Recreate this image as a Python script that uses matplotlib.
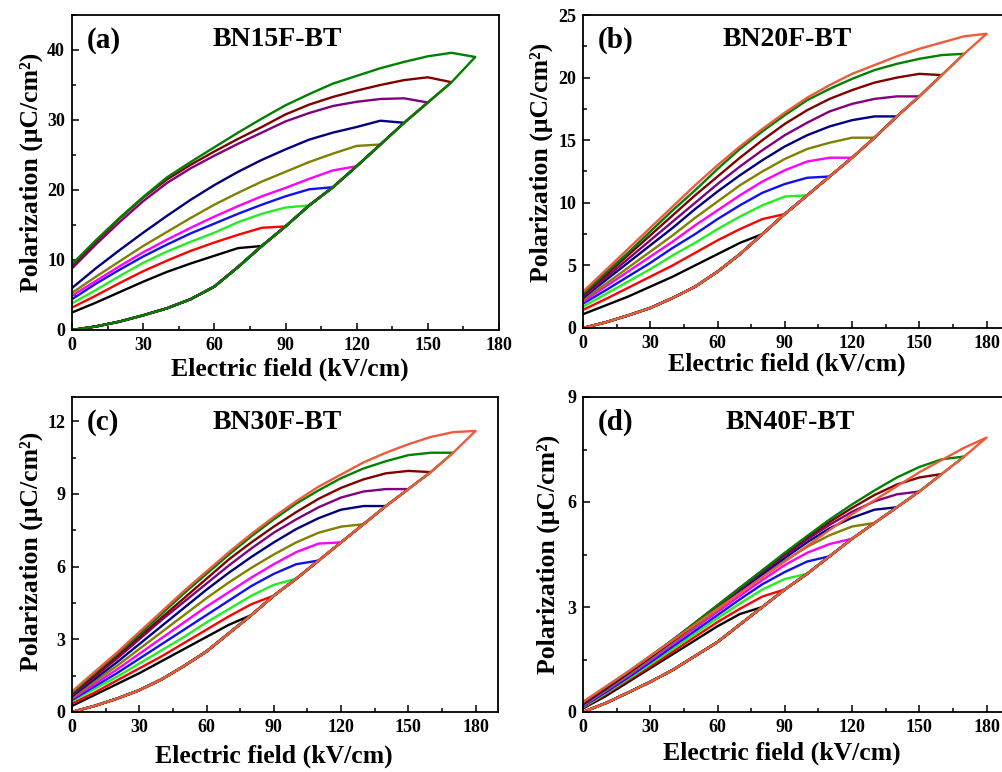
import matplotlib
matplotlib.use('Agg')
from matplotlib import pyplot as plt
from matplotlib.ticker import MultipleLocator

plt.rcParams['font.family'] = ['Liberation Serif', 'DejaVu Serif']
plt.rcParams['font.weight'] = 'bold'
plt.rcParams['axes.labelweight'] = 'bold'

# electric field grid (kV/cm), step 10
fields = [0, 10, 20, 30, 40, 50, 60, 70, 80, 90, 100, 110, 120, 130, 140, 150, 160, 170, 180]
colors = ['#000000', '#ff0000', '#22ee22', '#1010f0', '#ff00ff', '#808000',
          '#000080', '#800080', '#800000', '#008000', '#ee5a3c']

# BN15F-BT: charging branch (shared) and discharging branches (E = 0 .. Emax-10)
bn15_charge = [0, 0.5, 1.2, 2.1, 3.1, 4.4, 6.2, 9.0, 12.0, 14.8, 17.8, 20.4, 23.4, 26.5, 29.6, 32.5, 35.4, 39.0]
bn15_discharge = [
    [2.5, 3.9, 5.4, 6.9, 8.3, 9.5, 10.6, 11.7],
    [3.2, 4.9, 6.7, 8.4, 9.9, 11.3, 12.5, 13.6, 14.6],
    [3.8, 5.7, 7.7, 9.6, 11.2, 12.6, 13.9, 15.4, 16.6, 17.5],
    [4.4, 6.6, 8.6, 10.5, 12.2, 13.8, 15.2, 16.6, 17.9, 19.1, 20.1],
    [4.9, 7.0, 9.1, 11.1, 12.9, 14.6, 16.2, 17.7, 19.1, 20.3, 21.6, 22.8],
    [5.3, 7.6, 9.8, 12.0, 14.0, 16.0, 17.9, 19.6, 21.2, 22.6, 24.0, 25.2, 26.3],
    [6.0, 8.8, 11.4, 13.9, 16.3, 18.6, 20.7, 22.6, 24.3, 25.8, 27.2, 28.2, 29.0, 29.9],
    [8.8, 12.2, 15.4, 18.4, 21.0, 23.1, 24.9, 26.6, 28.2, 29.8, 31.0, 32.0, 32.6, 33.0, 33.1],
    [9.2, 12.6, 15.9, 18.9, 21.5, 23.6, 25.5, 27.3, 29.0, 30.8, 32.2, 33.3, 34.2, 35.0, 35.7, 36.1],
    [9.4, 12.8, 16.0, 19.0, 21.8, 24.0, 26.1, 28.2, 30.2, 32.1, 33.7, 35.2, 36.3, 37.4, 38.3, 39.1, 39.6],
]

# BN20F-BT
bn20_charge = [0, 0.45, 1.0, 1.6, 2.4, 3.3, 4.5, 5.9, 7.5, 9.1, 10.6, 12.1, 13.6, 15.2, 16.9, 18.5, 20.2, 21.9, 23.5]
bn20_discharge = [
    [1.1, 1.8, 2.5, 3.3, 4.1, 5.0, 5.9, 6.8],
    [1.45, 2.3, 3.2, 4.1, 5.0, 6.0, 7.0, 7.9, 8.7],
    [1.7, 2.7, 3.7, 4.7, 5.8, 6.8, 7.9, 8.9, 9.8, 10.5],
    [1.95, 3.0, 4.1, 5.2, 6.4, 7.5, 8.7, 9.8, 10.8, 11.5, 12.0],
    [2.1, 3.3, 4.5, 5.7, 6.9, 8.2, 9.4, 10.6, 11.7, 12.6, 13.3, 13.6],
    [2.25, 3.5, 4.8, 6.1, 7.4, 8.8, 10.1, 11.4, 12.5, 13.5, 14.3, 14.8, 15.2],
    [2.4, 3.8, 5.2, 6.6, 8.0, 9.5, 10.9, 12.2, 13.4, 14.5, 15.4, 16.1, 16.6, 16.9],
    [2.5, 4.0, 5.5, 7.0, 8.5, 10.0, 11.5, 12.9, 14.2, 15.4, 16.4, 17.3, 17.9, 18.3, 18.5],
    [2.65, 4.2, 5.8, 7.4, 9.0, 10.6, 12.1, 13.6, 15.0, 16.3, 17.4, 18.3, 19.0, 19.6, 20.0, 20.3],
    [2.75, 4.4, 6.0, 7.7, 9.4, 11.0, 12.7, 14.3, 15.7, 17.0, 18.2, 19.1, 19.9, 20.6, 21.1, 21.5, 21.8],
    [2.9, 4.6, 6.3, 8.0, 9.7, 11.4, 13.0, 14.5, 15.9, 17.2, 18.4, 19.4, 20.3, 21.0, 21.7, 22.3, 22.8, 23.3],
]

# BN30F-BT
bn30_charge = [0, 0.25, 0.55, 0.9, 1.35, 1.9, 2.5, 3.25, 4.0, 4.8, 5.5, 6.25, 7.0, 7.75, 8.5, 9.2, 9.9, 10.7, 11.6]
bn30_discharge = [
    [0.25, 0.7, 1.15, 1.6, 2.1, 2.6, 3.1, 3.6],
    [0.35, 0.8, 1.3, 1.8, 2.3, 2.85, 3.4, 3.95, 4.45],
    [0.45, 0.95, 1.45, 2.0, 2.55, 3.1, 3.7, 4.25, 4.8, 5.25],
    [0.5, 1.05, 1.6, 2.2, 2.8, 3.4, 4.0, 4.6, 5.2, 5.7, 6.1],
    [0.55, 1.15, 1.75, 2.4, 3.05, 3.7, 4.35, 4.95, 5.55, 6.1, 6.6, 6.95],
    [0.6, 1.25, 1.9, 2.6, 3.3, 4.0, 4.7, 5.35, 5.95, 6.5, 7.0, 7.4, 7.65],
    [0.65, 1.35, 2.05, 2.8, 3.55, 4.3, 5.05, 5.75, 6.4, 7.0, 7.55, 8.0, 8.35, 8.5],
    [0.7, 1.45, 2.2, 3.0, 3.8, 4.55, 5.3, 6.05, 6.75, 7.4, 7.95, 8.45, 8.85, 9.1, 9.2],
    [0.75, 1.5, 2.3, 3.1, 3.9, 4.7, 5.5, 6.3, 7.0, 7.65, 8.25, 8.8, 9.25, 9.6, 9.85, 9.95],
    [0.8, 1.6, 2.4, 3.2, 4.05, 4.9, 5.7, 6.5, 7.25, 7.95, 8.6, 9.15, 9.65, 10.05, 10.35, 10.6, 10.7],
    [0.85, 1.65, 2.45, 3.3, 4.15, 5.0, 5.8, 6.6, 7.35, 8.05, 8.7, 9.3, 9.8, 10.3, 10.7, 11.05, 11.35, 11.55],
]

# BN40F-BT
bn40_charge = [0, 0.25, 0.55, 0.86, 1.2, 1.6, 2.0, 2.5, 3.0, 3.5, 3.95, 4.45, 4.95, 5.4, 5.85, 6.3, 6.8, 7.3, 7.84]
bn40_discharge = [
    [0.10, 0.45, 0.85, 1.25, 1.65, 2.05, 2.45, 2.8],
    [0.12, 0.5, 0.9, 1.3, 1.72, 2.15, 2.57, 2.95, 3.3],
    [0.14, 0.53, 0.94, 1.36, 1.8, 2.24, 2.68, 3.1, 3.5, 3.8],
    [0.16, 0.56, 0.98, 1.42, 1.87, 2.32, 2.77, 3.22, 3.65, 4.0, 4.3],
    [0.18, 0.6, 1.03, 1.48, 1.94, 2.4, 2.86, 3.32, 3.77, 4.2, 4.55, 4.8],
    [0.2, 0.62, 1.06, 1.52, 1.99, 2.46, 2.93, 3.4, 3.87, 4.32, 4.72, 5.05, 5.3],
    [0.22, 0.65, 1.1, 1.56, 2.03, 2.5, 2.98, 3.46, 3.94, 4.4, 4.85, 5.25, 5.55, 5.78],
    [0.24, 0.67, 1.12, 1.58, 2.05, 2.53, 3.02, 3.51, 4.0, 4.47, 4.93, 5.35, 5.72, 6.02, 6.22],
    [0.26, 0.69, 1.13, 1.59, 2.06, 2.55, 3.05, 3.55, 4.04, 4.52, 4.99, 5.43, 5.83, 6.2, 6.5, 6.7],
    [0.28, 0.71, 1.14, 1.6, 2.06, 2.55, 3.05, 3.55, 4.05, 4.55, 5.03, 5.5, 5.93, 6.33, 6.7, 7.0, 7.22],
    [0.29, 0.72, 1.15, 1.6, 2.05, 2.5, 2.95, 3.4, 3.85, 4.3, 4.75, 5.2, 5.65, 6.05, 6.45, 6.85, 7.2, 7.55],
]

W, H = 1002, 772


def px_axes(l, t, r, b):
    return [l / W, 1 - b / H, (r - l) / W, (b - t) / H]


def draw_panel(ax, charge, discharge, xmax, ymax, ymaj, letter, ylab, xlab):
    for i, up in enumerate(discharge):
        n = len(up)
        x = fields[:n + 1] + fields[:n][::-1]
        y = charge[:n + 1] + up[::-1]
        ax.plot(x, y, color=colors[i], lw=1.7)
    ax.set_xlim(0, xmax)
    ax.set_ylim(0, ymax)
    ax.xaxis.set_major_locator(MultipleLocator(30))
    ax.xaxis.set_minor_locator(MultipleLocator(15))
    ax.yaxis.set_major_locator(MultipleLocator(ymaj))
    ax.yaxis.set_minor_locator(MultipleLocator(ymaj / 2))
    ax.tick_params(which='both', direction='in', top=False, right=False, width=1.1, labelsize=13, pad=5)
    ax.tick_params(which='major', length=5)
    ax.tick_params(which='minor', length=3)
    for s in ax.spines.values():
        s.set_linewidth(1.3)
    ax.set_xlabel('Electric field (kV/cm)', fontsize=18.5)
    ax.set_ylabel('Polarization (\u03bcC/cm\u00b2)', fontsize=18.5)
    ax.xaxis.set_label_coords(*xlab)
    ax.yaxis.set_label_coords(*ylab)
    ax.text(0.035, 0.92, letter, transform=ax.transAxes, fontsize=21, ha='left', va='center')


fig = plt.figure(figsize=(W / 100, H / 100), dpi=100)

ax_a = fig.add_axes(px_axes(72, 15, 499, 330))
draw_panel(ax_a, bn15_charge, bn15_discharge, 180, 45, 10, '(a)', (-0.068, 0.5), (0.51, -0.088))
ax_b = fig.add_axes(px_axes(583, 15, 1009, 328))
draw_panel(ax_b, bn20_charge, bn20_discharge, 190, 25, 5, '(b)', (-0.070, 0.53), (0.479, -0.078))
ax_c = fig.add_axes(px_axes(72, 397, 498, 712))
draw_panel(ax_c, bn30_charge, bn30_discharge, 190, 13, 3, '(c)', (-0.068, 0.51), (0.474, -0.103))
ax_d = fig.add_axes(px_axes(583, 397, 1009, 712))
draw_panel(ax_d, bn40_charge, bn40_discharge, 190, 9, 3, '(d)', (-0.054, 0.5), (0.467, -0.093))

# sample names
for x, y, name in [(277, 40, 'BN15F-BT'), (787, 40, 'BN20F-BT'), (277, 423, 'BN30F-BT'), (790, 422, 'BN40F-BT')]:
    fig.text(x / W, 1 - y / H, name, fontsize=20, ha='center', va='center')

fig.savefig('out.png', dpi=100)
